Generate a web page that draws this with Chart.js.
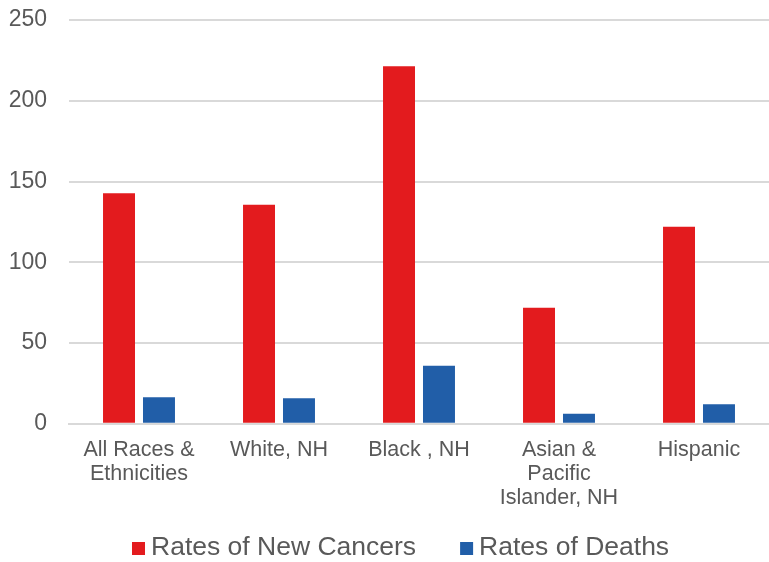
<!DOCTYPE html>
<html>
<head>
<meta charset="utf-8">
<script src="https://cdn.jsdelivr.net/npm/chart.js@4.4.1/dist/chart.umd.min.js"></script>
<style>
  html, body { margin: 0; padding: 0; background: #ffffff; }
  #wrap { width: 769px; height: 562px; position: relative; }
</style>
</head>
<body>
<div id="wrap"><canvas id="chart" width="769" height="562"></canvas></div>
<script>
// Cancer incidence and death rates by race / ethnicity (per 100,000)
const categories = [
  ["All Races &", "Ethnicities"],
  "White, NH",
  "Black , NH",
  ["Asian &", "Pacific", "Islander, NH"],
  "Hispanic"
];
const seriesNames = ["Rates of New Cancers", "Rates of Deaths"];
const newCancers = [142.7, 135.6, 221.4, 71.8, 122.0];
const deaths = [16.4, 15.8, 35.9, 6.2, 12.1];
const yTicks = [0, 50, 100, 150, 200, 250];

const FONT = "'Liberation Sans', Arial, sans-serif";
const TEXT = "#595959";
const RED = "#E31B1E";
const BLUE = "#215EA8";

// Legend row under the category labels
const bottomLegend = {
  id: "bottomLegend",
  afterDraw(chart) {
    const ctx = chart.ctx;
    const sets = chart.data.datasets;
    const fontSize = 26.5;
    const box = 13, gap = 6, itemGap = 44;
    ctx.save();
    ctx.font = fontSize + "px " + FONT;
    let x = 132;
    const baseline = 555;
    sets.forEach(d => {
      ctx.fillStyle = d.backgroundColor;
      ctx.fillRect(x, baseline - box, box, box);
      ctx.fillStyle = TEXT;
      ctx.textBaseline = "alphabetic";
      ctx.textAlign = "left";
      ctx.fillText(d.label, x + box + gap, baseline);
      x += box + gap + ctx.measureText(d.label).width + itemGap;
    });
    ctx.restore();
  }
};

new Chart(document.getElementById("chart"), {
  type: "bar",
  data: {
    labels: categories,
    datasets: [
      { label: seriesNames[0], data: newCancers, backgroundColor: RED,
        barPercentage: 0.8, categoryPercentage: 0.571 },
      { label: seriesNames[1], data: deaths, backgroundColor: BLUE,
        barPercentage: 0.8, categoryPercentage: 0.571 }
    ]
  },
  options: {
    responsive: false,
    animation: false,
    devicePixelRatio: 1,
    layout: { padding: { top: 20, left: 0, right: 0, bottom: 46 } },
    plugins: {
      legend: { display: false },
      tooltip: { enabled: false }
    },
    scales: {
      x: {
        grid: { display: false },
        border: { color: "#d9d9d9", width: 2 },
        ticks: {
          color: TEXT,
          font: { family: FONT, size: 21.5, lineHeight: 1.12 },
          maxRotation: 0,
          autoSkip: false,
          padding: 6
        }
      },
      y: {
        min: 0,
        max: 250,
        afterBuildTicks(axis) { axis.ticks = yTicks.map(v => ({ value: v })); },
        afterFit(axis) { axis.width = 69; },
        grid: {
          color: "#d9d9d9",
          lineWidth: 2,
          drawTicks: true,
          tickLength: 22,
          tickColor: "rgba(0,0,0,0)"
        },
        border: { display: false },
        ticks: {
          color: TEXT,
          font: { family: FONT, size: 23 },
          padding: 0
        }
      }
    }
  },
  plugins: [bottomLegend]
});
</script>
</body>
</html>
